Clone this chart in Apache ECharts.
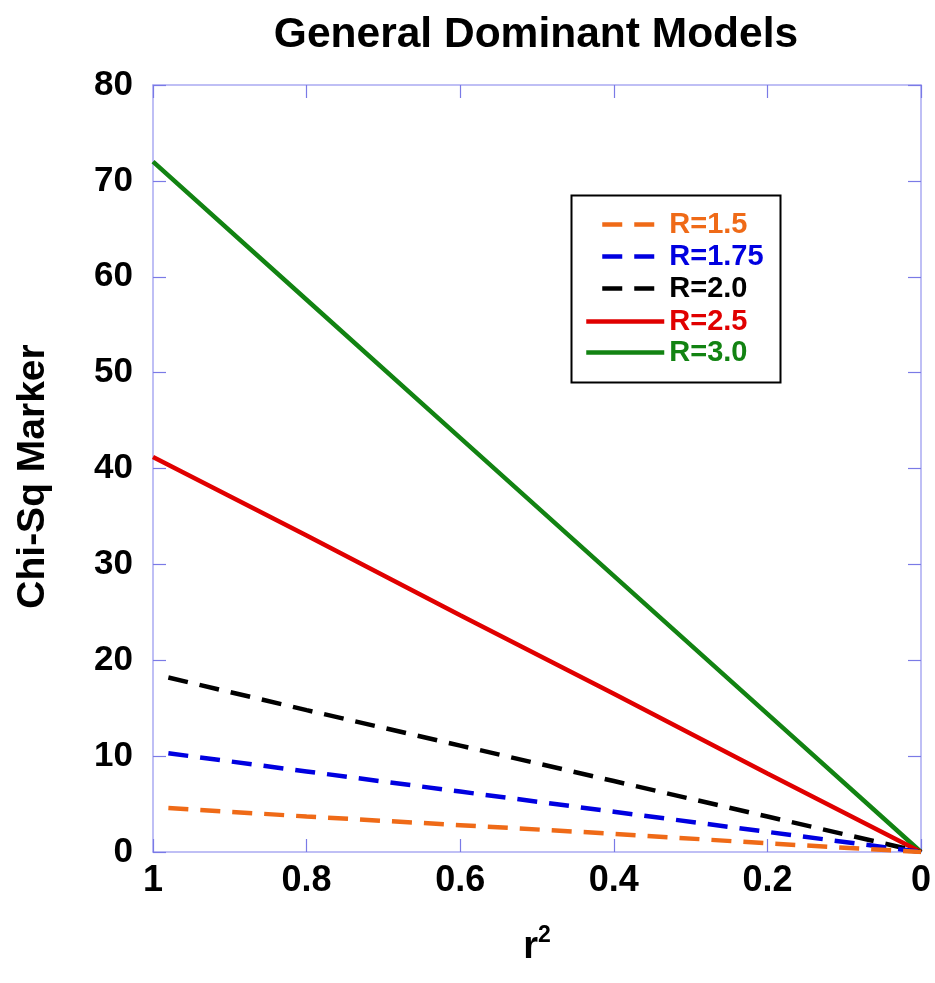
<!DOCTYPE html>
<html>
<head>
<meta charset="utf-8">
<script src="https://cdn.jsdelivr.net/npm/echarts@6/dist/echarts.min.js"></script>
<style>html,body{margin:0;padding:0;background:#fff}#c{width:935px;height:983px}</style>
</head>
<body>
<div id="c"></div>
<script>
// ---- data ----
const dashedR2 = [0.98, 0.8, 0.6, 0.4, 0.2, 0];
const solidR2  = [1.0, 0.8, 0.6, 0.4, 0.2, 0];
const r15  = [4.6, 3.7, 2.8, 1.9, 0.9, 0];
const r175 = [10.3, 8.4, 6.3, 4.2, 2.1, 0];
const r20  = [18.2, 14.8, 11.1, 7.4, 3.7, 0];
const r25  = [41.2, 33.0, 24.7, 16.5, 8.2, 0];
const r30  = [72.0, 57.6, 43.2, 28.8, 14.4, 0];
const seriesNames = ['R=1.5', 'R=1.75', 'R=2.0', 'R=2.5', 'R=3.0'];
const colors = ['#ef6a17', '#0000e0', '#000000', '#e00000', '#128312'];

const FONT = "'Liberation Sans', Arial, Helvetica, sans-serif";
const AX = '#aaaaf2';
const TK = '#7a7ae6';

function pairs(xs, ys) { return xs.map((x, i) => [x, ys[i]]); }

const seriesData = [
  { x: dashedR2, y: r15, dashed: true },
  { x: dashedR2, y: r175, dashed: true },
  { x: dashedR2, y: r20, dashed: true },
  { x: solidR2, y: r25, dashed: false },
  { x: solidR2, y: r30, dashed: false }
];

const chart = echarts.init(document.getElementById('c'), null, { renderer: 'canvas' });

const axisCommon = {
  min: 0,
  splitLine: { show: false },
  axisLine: { show: true, onZero: false, lineStyle: { color: AX, width: 1.5 } },
  axisTick: { show: true, inside: true, length: 13, lineStyle: { color: TK, width: 1.2 } }
};

const legendText = { fontFamily: FONT, fontWeight: 'bold', fontSize: 29, lineHeight: 26 };

chart.setOption({
  animation: false,
  backgroundColor: '#fff',
  title: {
    text: 'General Dominant Models',
    left: 531, top: 9, textAlign: 'center',
    textStyle: { fontFamily: FONT, fontWeight: 'bold', fontSize: 42.5, color: '#000' }
  },
  grid: { left: 153, right: 14, top: 85, bottom: 131 },
  xAxis: [
    Object.assign({}, axisCommon, {
      type: 'value', max: 1, interval: 0.2, inverse: true, position: 'bottom',
      axisLabel: { margin: 11, fontFamily: FONT, fontWeight: 'bold', fontSize: 36, color: '#000' },
      name: '{r|r}{s|2}', nameLocation: 'middle', nameGap: 72,
      nameTextStyle: {
        rich: {
          r: { fontFamily: FONT, fontWeight: 'bold', fontSize: 38, color: '#000', verticalAlign: 'bottom' },
          s: { fontFamily: FONT, fontWeight: 'bold', fontSize: 23, color: '#000', padding: [0, 0, 20, 0], verticalAlign: 'bottom' }
        }
      }
    }),
    Object.assign({}, axisCommon, {
      type: 'value', max: 1, interval: 0.2, inverse: true, position: 'top',
      axisLabel: { show: false }
    })
  ],
  yAxis: [
    Object.assign({}, axisCommon, {
      type: 'value', max: 80, interval: 10, position: 'left',
      axisLabel: { margin: 20, fontFamily: FONT, fontWeight: 'bold', fontSize: 35, color: '#000' },
      name: 'Chi-Sq Marker', nameLocation: 'middle', nameGap: 100, nameRotate: 90,
      nameTextStyle: { fontFamily: FONT, fontWeight: 'bold', fontSize: 39, color: '#000', padding: [0, 16, 0, 0] }
    }),
    Object.assign({}, axisCommon, {
      type: 'value', max: 80, interval: 10, position: 'right',
      axisLabel: { show: false }
    })
  ],
  legend: [
    {
      data: seriesNames.slice(0, 3).map((n, i) => ({ name: n, textStyle: { color: colors[i] } })),
      orient: 'vertical', left: 595, top: 205, itemWidth: 62, itemHeight: 14, itemGap: 3,
      textStyle: legendText,
      itemStyle: { opacity: 0, borderWidth: 0 },
      lineStyle: { width: 4.5 },
      selectedMode: false
    },
    {
      data: seriesNames.slice(3).map((n, i) => ({ name: n, textStyle: { color: colors[i + 3] } })),
      orient: 'vertical', left: 579, top: 302, itemWidth: 78, itemHeight: 14, itemGap: 2,
      textStyle: legendText,
      itemStyle: { opacity: 0, borderWidth: 0 },
      lineStyle: { width: 4.5 },
      selectedMode: false
    }
  ],
  graphic: [{
    type: 'rect', left: 569, top: 193, z: 100,
    shape: { width: 209, height: 187 },
    style: { fill: 'none', stroke: '#000', lineWidth: 2 }
  }],
  series: seriesData.map((s, i) => ({
    name: seriesNames[i],
    type: 'line',
    xAxisIndex: 0, yAxisIndex: 0,
    data: pairs(s.x, s.y),
    showSymbol: false, symbol: 'none',
    lineStyle: { color: colors[i], width: 4.5, type: s.dashed ? [20, 12] : 'solid' },
    itemStyle: { color: colors[i] },
    z: 10 - i
  }))
});
</script>
</body>
</html>
